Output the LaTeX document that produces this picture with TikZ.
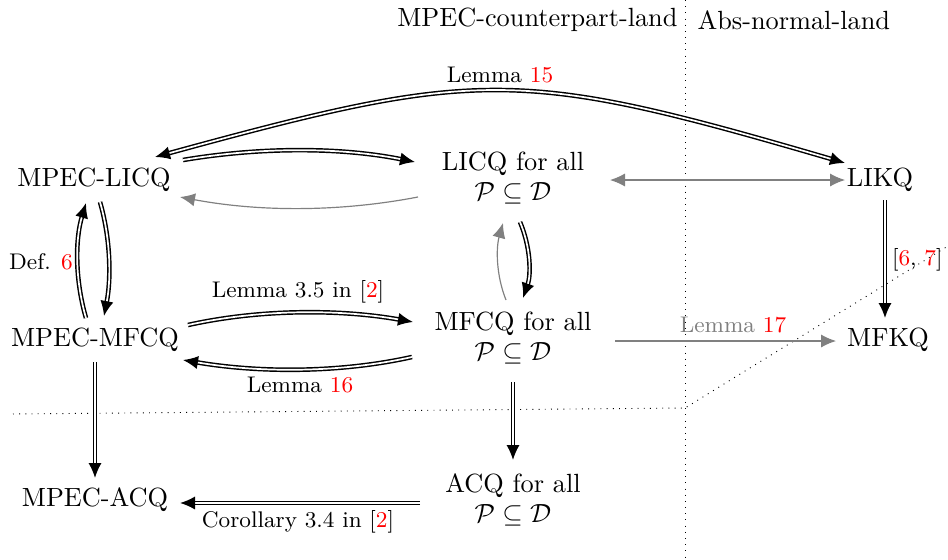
\documentclass[tikz,border=0pt]{standalone}
\usetikzlibrary{arrows.meta,calc}
\begin{document}
\begin{tikzpicture}[x=0.38pt,y=-0.38pt,
  box/.style={inner sep=0pt,align=center,font=\fontsize{10}{11.5}\selectfont},
  lbl/.style={inner sep=0pt,font=\fontsize{8.6}{10}\selectfont},
  imp/.style={double,line width=0.55pt,double distance=0.65pt,-{Latex[length=5.7pt,width=5pt]}},
  gimp/.style={gray,line width=0.45pt,-{Latex[length=5.7pt,width=5pt]}},
  sep/.style={dotted,line width=0.35pt}]
\useasboundingbox (0,0) rectangle (948,559);
% separators
\draw[sep] (685,0) -- (685,559);
\draw[sep] (13,414) -- (685,408) -- (948,246);
% headers
\node[box,anchor=east] (hl) at (678,20) {MPEC-counterpart-land};
\node[box,anchor=west] (hr) at (697,20) {Abs-normal-land};
% nodes
\node[box] (A) at (94,180) {MPEC-LICQ};
\node[box] (B) at (513,178) {LICQ for all\\$\mathcal{P}\subseteq\mathcal{D}$};
\node[box] (C) at (880,180) {LIKQ};
\node[box] (D) at (95,340) {MPEC-MFCQ};
\node[box] (E) at (513,338) {MFCQ for all\\$\mathcal{P}\subseteq\mathcal{D}$};
\node[box] (F) at (888,340) {MFKQ};
\node[box] (G) at (95,500) {MPEC-ACQ};
\node[box] (H) at (513,500) {ACQ for all\\$\mathcal{P}\subseteq\mathcal{D}$};
% connectors
\draw[imp,{Latex[length=5.7pt,width=5pt]}-{Latex[length=5.7pt,width=5pt]}]
  ($(C)+(-35,-17)$) .. controls (520,68) and (480,68) .. ($(A)+(61,-23)$);
\node[lbl] (l15) at (500,75) {Lemma \textcolor{red}{15}};
\draw[imp] ($(A)+(89,-20)$) .. controls (260,147) and (340,147) .. ($(B)+(-98,-16)$);
\draw[gimp] ($(B)+(-95,19)$) .. controls (340,212) and (260,212) .. ($(A)+(86,17)$);
\draw[gray,line width=0.45pt,{Latex[length=5.7pt,width=5pt]}-{Latex[length=5.7pt,width=5pt]}]
  ($(B)+(97,2)$) -- ($(C)+(-35,0)$);
\draw[imp] ($(C)+(5,20)$) -- ($(F)+(-3,-22)$);
\node[lbl,anchor=east] (l67) at (943,260) {[\textcolor{red}{6}, \textcolor{red}{7}]};
\draw[gimp] ($(E)+(102,3)$) -- ($(F)+(-52,1)$);
\node[lbl,text=gray] (l17) at (733,325) {Lemma \textcolor{red}{17}};
\draw[imp] ($(D)+(-9,-22)$) .. controls (75,280) and (75,240) .. ($(A)+(-8,23)$);
\draw[imp] ($(A)+(6,22)$) .. controls (111,240) and (111,280) .. ($(D)+(9,-24)$);
\node[lbl] (ld6) at (41,262) {Def. \textcolor{red}{6}};
\draw[imp] ($(D)+(93,-15)$) .. controls (260,309) and (340,309) .. ($(E)+(-100,-16)$);
\node[lbl] (l35) at (298,292) {Lemma 3.5 in [\textcolor{red}{2}]};
\draw[imp] ($(E)+(-101,19)$) .. controls (340,373) and (260,373) .. ($(D)+(88,20)$);
\node[lbl] (l16) at (300,385) {Lemma \textcolor{red}{16}};
\draw[gimp] ($(E)+(-7,-38)$) .. controls (496,275) and (496,248) .. ($(B)+(-10,45)$);
\draw[imp] ($(B)+(7,44)$) .. controls (531,248) and (531,275) .. ($(E)+(10,-40)$);
\draw[imp] ($(D)+(0,22)$) -- ($(G)+(0,-22)$);
\draw[imp] ($(E)+(0,44)$) -- ($(H)+(0,-40)$);
\draw[imp] ($(H)+(-93,3)$) -- ($(G)+(85,3)$);
\node[lbl] (l34) at (298,522) {Corollary 3.4 in [\textcolor{red}{2}]};
\end{tikzpicture}
\end{document}
